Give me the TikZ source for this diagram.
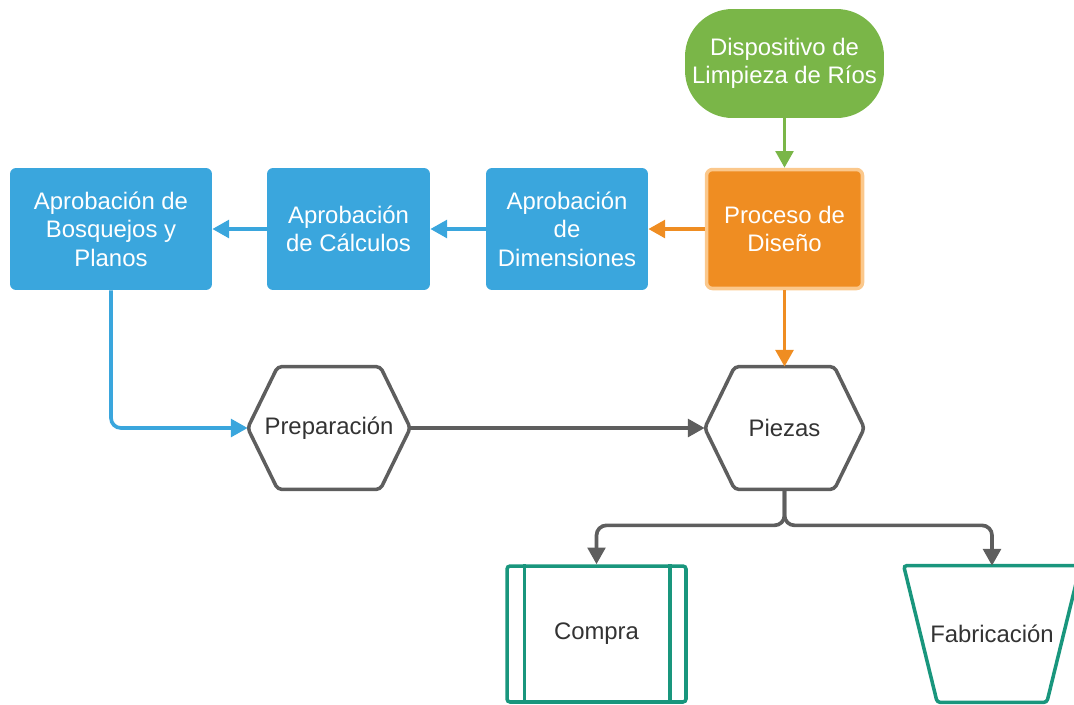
\documentclass[tikz,border=0pt]{standalone}
\usepackage{fontspec}
\setmainfont{Liberation Sans}
\usetikzlibrary{arrows.meta,calc}
\definecolor{lgreen}{HTML}{7AB648}
\definecolor{lorange}{HTML}{EF8D22}
\definecolor{lorangeedge}{HTML}{FBC88C}
\definecolor{lblue}{HTML}{3AA6DD}
\definecolor{lteal}{HTML}{19967D}
\definecolor{lgrey}{HTML}{5E5E5E}
\definecolor{ltext}{HTML}{333333}
\tikzset{
  box/.style={rounded corners=0.12cm, text=white, align=center, inner sep=2pt},
  shapebox/.style={text=ltext, align=center, inner sep=2pt},
  edge/.style={line width=2.1pt, rounded corners=0.2cm},
  flow/.style={edge, -{Triangle[length=9.5pt,width=10pt]}}
}

\begin{document}
\begin{tikzpicture}[x=0.02cm, y=-0.02cm, font=\fontsize{13.6}{16.2}\selectfont]
\path[use as bounding box, clip] (0,0) rectangle (1074,704);
% start and design
\node[box, fill=lgreen, rounded corners=0.95cm, minimum width=3.98cm, minimum height=2.18cm] (start) at (784.5,63.5)
  {Dispositivo de\\Limpieza de Ríos};
\node[box, fill=lorange, draw=lorangeedge, line width=2pt, minimum width=3.12cm, minimum height=2.38cm] (diseno) at (784.5,229)
  {Proceso de\\Diseño};
% approvals
\node[box, fill=lblue, minimum width=3.24cm, minimum height=2.44cm] (dim) at (567,229)
  {Aprobación\\de\\Dimensiones};
\node[box, fill=lblue, minimum width=3.26cm, minimum height=2.44cm] (calc) at (348.5,229)
  {Aprobación\\de Cálculos};
\node[box, fill=lblue, minimum width=4.04cm, minimum height=2.44cm] (bosq) at (111,229)
  {Aprobación de\\Bosquejos y\\Planos};
% hexagons
\node[shapebox, minimum width=3.24cm, minimum height=2.44cm] (prep) at (329,428) {Preparación};
\node[shapebox, minimum width=3.18cm, minimum height=2.44cm] (piezas) at (784.5,428) {Piezas};
\foreach \n in {prep,piezas} {
  \draw[lgrey, line width=2pt, rounded corners=0.08cm] (\n.west) -- ([xshift=0.6cm]\n.north west)
    -- ([xshift=-0.6cm]\n.north east) -- (\n.east) -- ([xshift=-0.6cm]\n.south east)
    -- ([xshift=0.6cm]\n.south west) -- cycle;
}
% purchase and manufacture
\node[shapebox, draw=lteal, fill=white, line width=2pt, rounded corners=0.06cm, minimum width=3.58cm, minimum height=2.72cm] (compra) at (596.5,634) {Compra};
\draw[lteal, line width=2pt] ([xshift=0.38cm]compra.north west) -- ([xshift=0.38cm]compra.south west);
\draw[lteal, line width=2pt] ([xshift=-0.36cm]compra.north east) -- ([xshift=-0.36cm]compra.south east);
\node[shapebox, minimum width=3.52cm, minimum height=2.72cm] (fabr) at (992,634) {Fabricación};
\draw[lteal, line width=2pt, rounded corners=0.06cm] (fabr.north west) -- (fabr.north east)
  -- ([xshift=-0.67cm]fabr.south east) -- ([xshift=0.67cm]fabr.south west) -- cycle;
% connectors
\draw[flow, lgreen] (start) -- (diseno);
\draw[flow, lorange] (diseno) -- (dim);
\draw[flow, lorange] (diseno) -- (piezas.north);
\draw[flow, lblue] (dim) -- (calc);
\draw[flow, lblue] (calc) -- (bosq);
\draw[flow, lblue] (bosq.south) |- (prep.west);
\draw[flow, lgrey] (prep.east) -- (piezas.west);
\coordinate (split) at ($(piezas.south)+(0,36)$);
\draw[flow, lgrey] (piezas.south) -- (split) -| (compra.north);
\draw[flow, lgrey] (piezas.south) -- (split) -| (fabr.north);
\end{tikzpicture}
\end{document}
